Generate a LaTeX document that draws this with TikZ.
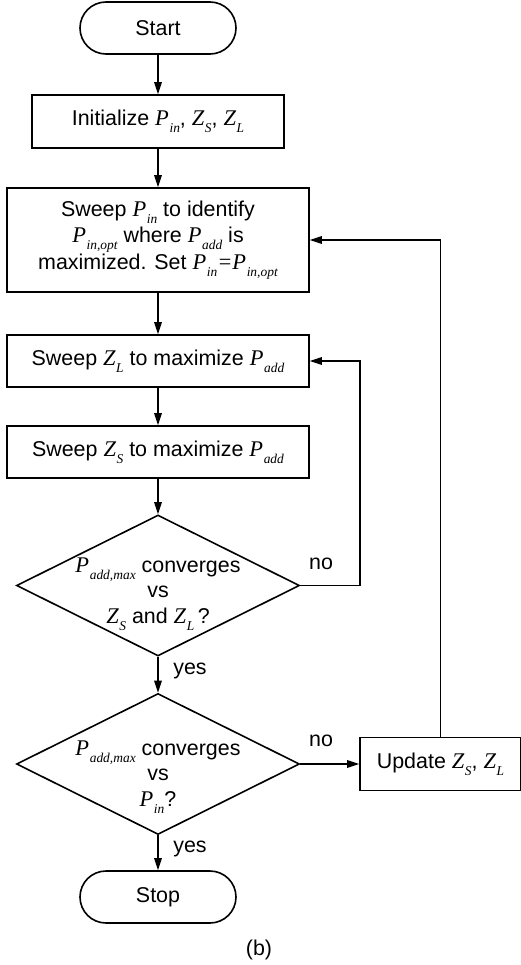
\documentclass[tikz,border=0pt]{standalone}
\usepackage{fontspec}
\setmainfont{Liberation Sans}
\newfontfamily\tms{Liberation Serif}
\usetikzlibrary{shapes.geometric,arrows.meta}
\newcommand\vv[1]{{\tms\itshape\fontsize{22.5}{25.5}\selectfont #1}}
\newcommand\vs[2]{{\tms\itshape\fontsize{22.5}{25.5}\selectfont #1\kern0.6bp\raisebox{-0.3em}{\fontsize{13.5}{13.5}\selectfont #2}}}
\begin{document}
\begin{tikzpicture}[x=1bp,y=-1bp, line width=1.6bp,
  font=\fontsize{21.5}{25.5}\selectfont,
  proc/.style={draw, rectangle, inner sep=0pt, align=center},
  term/.style={draw, rectangle, rounded corners=26bp, minimum width=156bp, minimum height=52bp, inner sep=0pt},
  dia/.style={draw, diamond, minimum width=283bp, minimum height=141bp, inner sep=0pt},
  lbl/.style={inner sep=0pt, align=center},
  arr/.style={-{Triangle[length=12bp,width=7.5bp]}}]
\useasboundingbox (0,0) rectangle (521,965);
\node[term] (start) at (158,28) {Start};
\node[proc, minimum width=252bp, minimum height=53bp] (init) at (158,121.5)
  {Initialize \vs{P}{in}, \vs{Z}{S}, \vs{Z}{L}};
\node[proc, minimum width=302bp, minimum height=104bp, font=\fontsize{21.5}{26.5}\selectfont] (sweep) at (158,240)
  {Sweep \vs{P}{in} to identify\\ \vs{P}{in,opt} where \vs{P}{add} is\\ maximized. Set \vs{P}{in}\vv{=}\vs{P}{in,opt}};
\node[proc, minimum width=302bp, minimum height=52bp] (zl) at (158,361)
  {Sweep \vs{Z}{L} to maximize \vs{P}{add}};
\node[proc, minimum width=302bp, minimum height=52bp] (zs) at (158,452)
  {Sweep \vs{Z}{S} to maximize \vs{P}{add}};
\node[dia] (d1) at (158,585.5) {};
\node[lbl] (t1) at (158,594) {\vs{P}{add,max} converges\\ vs\\ \vs{Z}{S} and \vs{Z}{L}\,?};
\node[dia] (d2) at (158,764) {};
\node[lbl] (t2) at (158,777) {\vs{P}{add,max} converges\\ vs\\ \vs{P}{in}?};
\node[proc, minimum width=161bp, minimum height=53bp] (upd) at (440.5,764)
  {Update \vs{Z}{S}, \vs{Z}{L}};
\node[term] (stop) at (158,897) {Stop};
\coordinate (c1) at (360,585.5);
\node[lbl] (no1) at (321,564) {no};
\node[lbl] (no2) at (321,741) {no};
\node[lbl] (yes1) at (190,671) {yes};
\node[lbl] (yes2) at (190,849) {yes};
\node[lbl] (cap) at (259,950) {(b)};
\draw[arr] (start) -- (init);
\draw[arr] (init) -- (sweep);
\draw[arr] (sweep) -- (zl);
\draw[arr] (zl) -- (zs);
\draw[arr] (zs) -- (d1.north);
\draw[arr] (d1.south) -- (d2.north);
\draw[arr] (d2.south) -- (stop);
\draw[arr] (d1.east) -- (c1) |- (zl.east);
\draw[arr] (d2.east) -- (upd.west);
\draw[arr] (upd.north) |- (sweep.east);
\end{tikzpicture}
\end{document}
